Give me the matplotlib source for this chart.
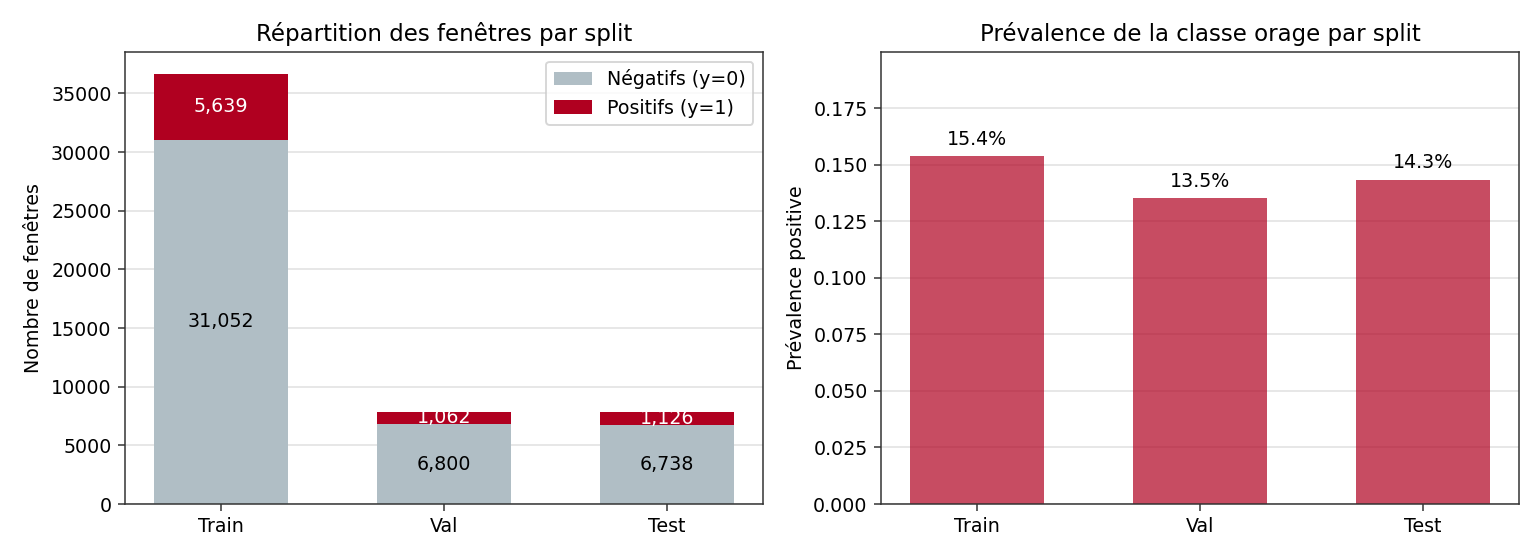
import matplotlib
matplotlib.use("Agg")
import matplotlib.pyplot as plt
import numpy as np

splits = ["Train", "Val", "Test"]
negatifs = [31052, 6800, 6738]
positifs = [5639, 1062, 1126]

neg = np.array(negatifs)
pos = np.array(positifs)
prev = pos / (neg + pos)

RED = "#b00020"
GRAY = "#b0bec5"

plt.rcParams["axes.edgecolor"] = "#333333"
plt.rcParams["xtick.color"] = "#333333"
plt.rcParams["ytick.color"] = "#333333"
plt.rcParams["xtick.labelcolor"] = "black"
plt.rcParams["ytick.labelcolor"] = "black"

DPI = 137
W, H = 1540, 560
fig = plt.figure(figsize=(W / DPI, H / DPI), dpi=DPI)
ax1 = fig.add_axes([125 / W, (H - 504) / H, 638 / W, 452 / H])
ax2 = fig.add_axes([881 / W, (H - 504) / H, 638 / W, 452 / H])

x = np.arange(len(splits))
b1 = ax1.bar(x, neg, width=0.6, color=GRAY, label="Négatifs (y=0)", zorder=2)
b2 = ax1.bar(x, pos, width=0.6, bottom=neg, color=RED, label="Positifs (y=1)", zorder=2)
ax1.bar_label(b1, labels=[f"{v:,}" for v in neg], label_type="center", color="black", fontsize=10)
ax1.bar_label(b2, labels=[f"{v:,}" for v in pos], label_type="center", color="white", fontsize=10)
ax1.set_xticks(x)
ax1.set_xticklabels(splits)
ax1.set_ylabel("Nombre de fenêtres")
ax1.set_title("Répartition des fenêtres par split", fontsize=12)
ax1.grid(axis="y", color="#e6e6e6", linewidth=1, zorder=0)
ax1.set_axisbelow(True)
ax1.legend(loc="upper right")

b3 = ax2.bar(x, prev, width=0.6, color=RED, alpha=0.7, zorder=2)
ax2.bar_label(b3, labels=[f"{v*100:.1f}%" for v in prev], padding=4, fontsize=10)
ax2.set_xticks(x)
ax2.set_xticklabels(splits)
ax2.set_ylim(0, prev.max() * 1.3)
ax2.set_ylabel("Prévalence positive")
ax2.set_title("Prévalence de la classe orage par split", fontsize=12)
ax2.grid(axis="y", color="#e6e6e6", linewidth=1, zorder=0)
ax2.set_axisbelow(True)

fig.savefig("out.png", dpi=DPI)
